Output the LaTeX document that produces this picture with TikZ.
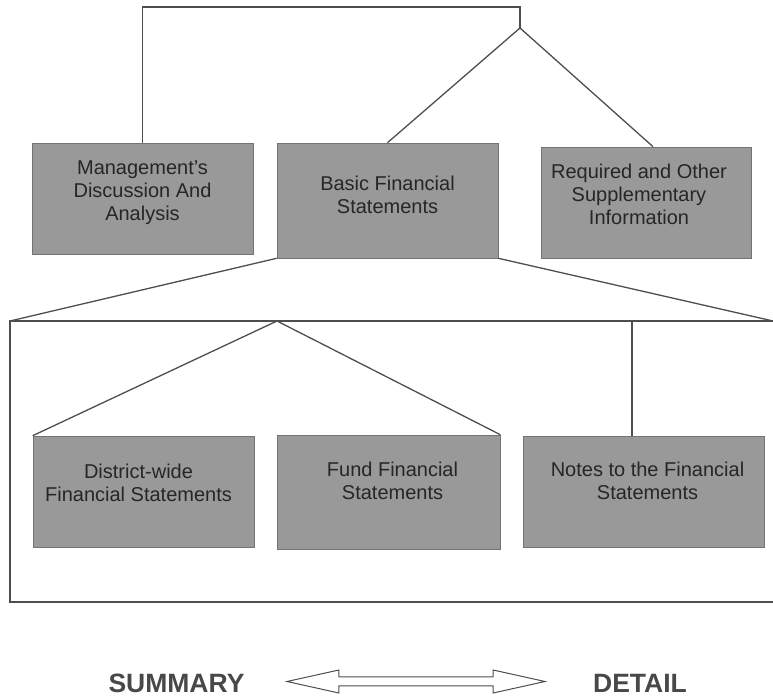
\documentclass[tikz,border=0pt]{standalone}
\usepackage{fontspec}
\setmainfont{Liberation Sans}
\usepackage{tikz}
\usetikzlibrary{shapes.arrows}
\usepackage{xcolor}
\definecolor{boxgray}{RGB}{153,153,153}
\definecolor{edgegray}{RGB}{115,115,115}
\definecolor{linegray}{RGB}{78,78,78}
\definecolor{txtgray}{RGB}{38,38,38}
\definecolor{endgray}{RGB}{72,72,72}
\tikzstyle{fbox} = [rectangle,fill=boxgray,draw=edgegray,line width=0.6pt,minimum width=221pt,minimum height=111pt,inner sep=0pt]
\tikzstyle{btext} = [align=center,text=txtgray,font=\fontsize{20}{23}\selectfont,inner sep=0pt]
\tikzstyle{link} = [line width=1.3pt,color=linegray]
\tikzstyle{endtext} = [anchor=base,inner sep=0pt,text=endgray,font=\bfseries\fontsize{26.5}{30}\selectfont]

\begin{document}
\begin{tikzpicture}[x=1pt,y=1pt]
\useasboundingbox (0,0) rectangle (773,698);

% Top row of statements
\node[fbox] (mda) at (142.5,499.5) {};
\node[btext] (mda-t) at ([yshift=6]mda.center) {Management's\\Discussion And\\Analysis};
\node[fbox,minimum height=115pt] (basic) at (387.5,497.5) {};
\node[btext] (basic-t) at ([yshift=6]basic.center) {Basic Financial\\Statements};
\node[fbox,minimum width=210pt] (rsi) at (646,495.5) {};
\node[btext] (rsi-t) at ([xshift=-7,yshift=8]rsi.center) {Required and Other\\Supplementary\\Information};

% Top bracket
\coordinate (topbar) at (520,691);
\coordinate (apex) at (520,670);
\draw[link] (mda.north) |- (topbar) -- (apex);
\draw[link] (basic.north) -- (apex) -- ([xshift=7]rsi.north);

% Expansion of the basic statements
\coordinate (bl) at (10,377);
\coordinate (br) at (773,377);
\coordinate (bbl) at (10,96);
\coordinate (bbr) at (773,96);
\draw[link] (basic.south west) -- (bl);
\draw[link] (basic.south east) -- (br);
\draw[link] (br) -- (bl) -- (bbl) -- (bbr);

% Lower row of statements
\node[fbox] (district) at (143.5,206.5) {};
\node[btext] (district-t) at ([xshift=-5,yshift=9]district.center) {District-wide\\Financial Statements};
\node[fbox,minimum width=223pt,minimum height=114pt] (fund) at (388.5,206) {};
\node[btext] (fund-t) at ([xshift=4,yshift=11]fund.center) {Fund Financial\\Statements};
\node[fbox,minimum width=241pt] (notes) at (643.5,206.5) {};
\node[btext] (notes-t) at ([xshift=4,yshift=11]notes.center) {Notes to the Financial\\Statements};

\coordinate (apex2) at (277,377);
\coordinate (ntop) at (632,377);
\draw[link] (district.north west) -- (apex2) -- (fund.north east);
\draw[link] (ntop) -- (ntop |- notes.north);

% Summary / detail scale
\node[endtext] (summary) at (176.5,5) {SUMMARY};
\node[endtext] (detail) at (640,5) {DETAIL};
\node[double arrow,draw=linegray,fill=white,line width=1pt,inner xsep=0pt,inner ysep=4pt,
  minimum height=258pt,double arrow head extend=7pt,
  double arrow tip angle=25] (scale) at (416,16.5) {};
\end{tikzpicture}
\end{document}
